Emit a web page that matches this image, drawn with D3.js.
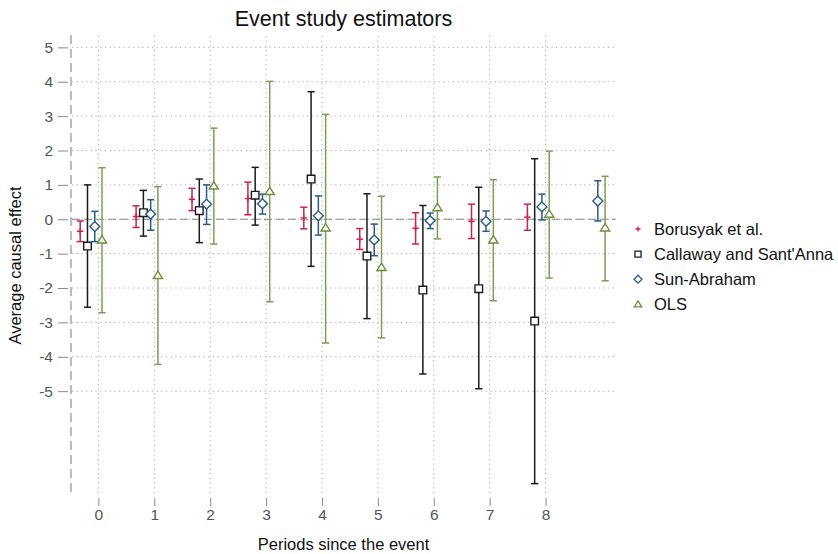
<!DOCTYPE html>
<html>
<head>
<meta charset="utf-8">
<script src="https://cdn.jsdelivr.net/npm/d3@7"></script>
<style>
  body { margin: 0; background: #fff; }
  svg { display: block; font-family: Helvetica, Arial, "Liberation Sans", sans-serif; }
</style>
</head>
<body>
<div id="chart"></div>
<script>
// estimates
const periods = [0, 1, 2, 3, 4, 5, 6, 7, 8, 9];

const bjsEst = [-0.35, 0.08, 0.58, 0.60, 0.04, -0.58, -0.26, -0.06, 0.06];
const bjsLo  = [-0.65, -0.24, 0.25, 0.13, -0.28, -0.88, -0.72, -0.56, -0.32];
const bjsHi  = [-0.05, 0.39, 0.90, 1.08, 0.35, -0.27, 0.19, 0.44, 0.44];

const csEst = [-0.78, 0.19, 0.25, 0.70, 1.17, -1.07, -2.06, -2.02, -2.96];
const csLo  = [-2.56, -0.49, -0.68, -0.17, -1.37, -2.89, -4.50, -4.93, -7.69];
const csHi  = [1.00, 0.84, 1.17, 1.51, 3.71, 0.74, 0.40, 0.93, 1.76];

const saEst = [-0.21, 0.15, 0.44, 0.45, 0.10, -0.60, -0.04, -0.06, 0.36, 0.53];
const saLo  = [-0.65, -0.32, -0.15, 0.15, -0.46, -1.06, -0.27, -0.35, -0.02, -0.05];
const saHi  = [0.23, 0.57, 1.00, 0.73, 0.68, -0.14, 0.18, 0.24, 0.73, 1.12];

const olsEst = [-0.60, -1.63, 0.97, 0.81, -0.25, -1.40, 0.34, -0.60, 0.15, -0.25];
const olsLo  = [-2.72, -4.22, -0.72, -2.40, -3.60, -3.45, -0.57, -2.37, -1.71, -1.79];
const olsHi  = [1.50, 0.95, 2.65, 4.01, 3.05, 0.67, 1.23, 1.15, 1.98, 1.25];

const xTicks = [0, 1, 2, 3, 4, 5, 6, 7, 8];
const yTicks = [-5, -4, -3, -2, -1, 0, 1, 2, 3, 4, 5];

const W = 838, H = 554;
const plot = {left: 71, right: 616, top: 36, bottom: 495};

const x = d3.scaleLinear().domain([-0.49, 9.26]).range([plot.left, plot.right]);
const y = d3.scaleLinear().domain([-8.02, 5.33]).range([plot.bottom, plot.top]);

const series = [
  {name: "Borusyak et al.", est: bjsEst, lo: bjsLo, hi: bjsHi, shift: -0.325, color: "#d21f4e", line: "#d21f4e", shape: "plus"},
  {name: "Callaway and Sant'Anna", est: csEst, lo: csLo, hi: csHi, shift: -0.195, color: "#1a1a1a", line: "#1a1a1a", shape: "square"},
  {name: "Sun-Abraham", est: saEst, lo: saLo, hi: saHi, shift: -0.065, color: "#2a5a8c", line: "#2a5a8c", shape: "diamond"},
  {name: "OLS", est: olsEst, lo: olsLo, hi: olsHi, shift: 0.065, color: "#6e8f3c", line: "#7f9e55", shape: "triangle"}
];

function markerPath(shape, s) {
  switch (shape) {
    case "plus": return `M${-s},0H${s}M0,${-s}V${s}`;
    case "square": return `M${-s},${-s}H${s}V${s}H${-s}Z`;
    case "diamond": return `M0,${-s * 1.3}L${s * 1.3},0L0,${s * 1.3}L${-s * 1.3},0Z`;
    case "triangle": return `M0,${-s}L${s * 1.1},${s * 0.75}L${-s * 1.1},${s * 0.75}Z`;
    default: return "";
  }
}
const markerSize = {plus: 3.2, square: 3.8, diamond: 3.8, triangle: 4.2};

const svg = d3.select("#chart").append("svg")
  .attr("width", W)
  .attr("height", H);

// grid
svg.append("g").selectAll("line")
  .data(yTicks)
  .join("line")
  .attr("x1", plot.left + 1).attr("x2", plot.right)
  .attr("y1", d => y(d)).attr("y2", d => y(d))
  .attr("stroke", "#a8a8a8").attr("stroke-width", 1)
  .attr("stroke-dasharray", "1.2,3.5");

svg.append("g").selectAll("line")
  .data(xTicks)
  .join("line")
  .attr("x1", d => x(d)).attr("x2", d => x(d))
  .attr("y1", plot.top).attr("y2", plot.bottom - 2)
  .attr("stroke", "#a8a8a8").attr("stroke-width", 1)
  .attr("stroke-dasharray", "1.2,3.5");

// zero reference line
svg.append("line")
  .attr("x1", plot.left + 1).attr("x2", plot.right)
  .attr("y1", y(0)).attr("y2", y(0))
  .attr("stroke", "#8a8a8a").attr("stroke-width", 1.1)
  .attr("stroke-dasharray", "8,4");

// y axis (dashed line, ticks at left)
const yAxis = svg.append("g")
  .attr("transform", `translate(${plot.left},0)`)
  .call(d3.axisLeft(y).tickValues(yTicks).tickSize(10).tickPadding(5).tickFormat(d => String(d)));
yAxis.select(".domain").remove();
yAxis.selectAll(".tick line").attr("stroke", "#8a8a8a").attr("x2", -3).attr("x1", -13);
yAxis.selectAll(".tick text").attr("fill", "#555").style("font-size", "15.5px").attr("x", -18);
svg.append("line")
  .attr("x1", plot.left).attr("x2", plot.left)
  .attr("y1", plot.top - 1).attr("y2", plot.bottom + 2)
  .attr("stroke", "#999").attr("stroke-width", 1.3)
  .attr("stroke-dasharray", "9,5");

// x axis (ticks only)
const xAxis = svg.append("g")
  .attr("transform", `translate(0,${plot.bottom + 3})`)
  .call(d3.axisBottom(x).tickValues(xTicks).tickSize(8).tickPadding(3).tickFormat(d => String(d)));
xAxis.select(".domain").remove();
xAxis.selectAll(".tick line").attr("stroke", "#8a8a8a");
xAxis.selectAll(".tick text").attr("fill", "#555").style("font-size", "15.5px");

// series
series.forEach(s => {
  const pts = s.est.map((v, i) => ({p: periods[i], est: v, lo: s.lo[i], hi: s.hi[i]}));
  const g = svg.append("g");
  const cap = 3.6;

  g.selectAll("line.ci")
    .data(pts).join("line")
    .attr("class", "ci")
    .attr("x1", d => x(d.p + s.shift)).attr("x2", d => x(d.p + s.shift))
    .attr("y1", d => y(d.lo)).attr("y2", d => y(d.hi))
    .attr("stroke", s.line).attr("stroke-width", 1.5);

  ["lo", "hi"].forEach(k => {
    g.selectAll("line.cap-" + k)
      .data(pts).join("line")
      .attr("class", "cap-" + k)
      .attr("x1", d => x(d.p + s.shift) - cap).attr("x2", d => x(d.p + s.shift) + cap)
      .attr("y1", d => y(d[k])).attr("y2", d => y(d[k]))
      .attr("stroke", s.line).attr("stroke-width", 1.5);
  });

  g.selectAll("path.pt")
    .data(pts).join("path")
    .attr("class", "pt")
    .attr("transform", d => `translate(${x(d.p + s.shift)},${y(d.est)})`)
    .attr("d", markerPath(s.shape, markerSize[s.shape]))
    .attr("fill", s.shape === "plus" ? "none" : "#fff")
    .attr("stroke", s.color).attr("stroke-width", 1.4);
});

// title and axis titles
svg.append("text")
  .attr("x", (plot.left + plot.right) / 2).attr("y", 26)
  .attr("text-anchor", "middle")
  .style("font-size", "21.5px").attr("fill", "#111")
  .text("Event study estimators");

svg.append("text")
  .attr("x", (plot.left + plot.right) / 2).attr("y", 550)
  .attr("text-anchor", "middle")
  .style("font-size", "16.5px").attr("fill", "#111")
  .text("Periods since the event");

svg.append("text")
  .attr("transform", `translate(21,${(plot.top + plot.bottom) / 2}) rotate(-90)`)
  .attr("text-anchor", "middle")
  .style("font-size", "16.5px").attr("fill", "#111")
  .text("Average causal effect");

// legend
const legend = svg.append("g").attr("transform", "translate(638,229)");
series.forEach((s, i) => {
  const row = legend.append("g").attr("transform", `translate(0,${i * 25.1})`);
  row.append("path")
    .attr("d", markerPath(s.shape, markerSize[s.shape] * 0.8))
    .attr("fill", "none")
    .attr("stroke", s.color).attr("stroke-width", 1.3);
  row.append("text")
    .attr("x", 16).attr("y", 6)
    .style("font-size", "16.5px").attr("fill", "#111")
    .text(s.name);
});
</script>
</body>
</html>
